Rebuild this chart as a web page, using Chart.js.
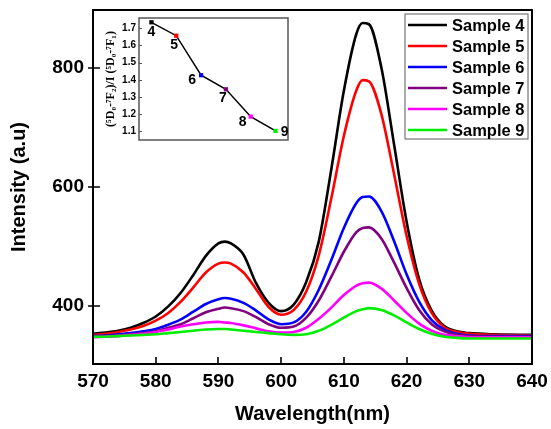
<!DOCTYPE html>
<html><head><meta charset="utf-8">
<script src="https://cdn.jsdelivr.net/npm/chart.js@4.4.1/dist/chart.umd.min.js"></script>
<style>
html,body{margin:0;padding:0;background:#fff;}
#wrap{position:relative;width:551px;height:429px;overflow:hidden;}
#main{position:absolute;left:0;top:0;}
#insetBox{position:absolute;left:95px;top:8px;width:200px;height:142px;}
</style></head><body>
<div id="wrap">
 <canvas id="main" width="551" height="429"></canvas>
 <div id="insetBox"><canvas id="inset" width="200" height="142"></canvas></div>
</div>
<script>
// ---- data ----
const wavelengths = [570,572,574,576,578,580,582,584,586,588,590,591,592,594,596,598,600,602,604,606,608,610,612,613,614,616,618,620,622,624,626,628,630,634,640];
const sample4 = [353,355,358,363,371,382,399,422,452,484,505,508,505,486,438,405,391,402,440,508,630,762,858,876,874,800,672,542,445,392,366,357,354,352,351];
const sample5 = [351,353,356,360,366,375,388,407,431,456,471,473,471,456,428,398,385,393,424,485,581,686,763,780,778,722,622,518,437,388,364,356,353,351,350];
const sample6 = [349,350,352,354,357,361,368,377,390,403,411,413,412,405,392,377,369,372,390,427,477,531,573,583,584,559,509,453,407,376,360,353,350,349,349];
const sample7 = [348,349,350,352,354,357,363,369,379,389,395,397,396,391,381,369,363,365,380,409,449,491,524,531,532,513,473,430,393,369,357,351,349,348,348];
const sample8 = [347,348,349,351,353,356,360,365,369,372,373,372,371,367,362,357,355,356,363,378,397,418,434,438,439,429,409,388,370,358,351,349,347,347,347];
const sample9 = [348,348,349,350,351,352,354,356,358,360,361,361,360,358,356,354,352,351,352,358,368,380,391,394,396,393,384,372,361,353,348,346,345,345,345];
const seriesNames = ['Sample 4','Sample 5','Sample 6','Sample 7','Sample 8','Sample 9'];
const xTickValues = [570,580,590,600,610,620,630,640];
const yTickValues = [400,600,800];
// inset
const insetSamples = [4,5,6,7,8,9];
const insetRatio = [1.735,1.657,1.427,1.345,1.186,1.103];
const insetLabels = ['4','5','6','7','8','9'];
const insetTickValues = [1.1,1.2,1.3,1.4,1.5,1.6,1.7];

// ---- styles ----
const seriesValues = [sample4,sample5,sample6,sample7,sample8,sample9];
const colors = ['#000000','#ff0000','#0000ff','#800080','#ff00ff','#00ee00'];
const FONT = "'Liberation Sans', Arial, Helvetica, sans-serif";
const SERIF = "'Liberation Serif', 'Times New Roman', serif";

const datasets = seriesNames.map((name,i)=>({
  label: name,
  data: wavelengths.map((w,j)=>({x:w, y:seriesValues[i][j]})),
  borderColor: colors[i],
  backgroundColor: colors[i],
  borderWidth: 2.6,
  pointRadius: 0,
  fill: false,
  cubicInterpolationMode: 'monotone',
  order: 10 - i
}));

const mainPlugin = {
  id: 'mainDecor',
  afterDatasetsDraw(chart){
    const {ctx, chartArea:a, scales:{x,y}} = chart;
    ctx.save();
    ctx.strokeStyle = '#000';
    ctx.lineWidth = 2;
    ctx.strokeRect(a.left, a.top, a.right-a.left, a.bottom-a.top);
    ctx.lineWidth = 1.6;
    ctx.beginPath();
    x.ticks.forEach(t=>{
      const px = Math.round(x.getPixelForValue(t.value));
      if (px > a.left+2 && px < a.right-2){ ctx.moveTo(px, a.bottom); ctx.lineTo(px, a.bottom-7); }
    });
    y.ticks.forEach(t=>{
      const py = Math.round(y.getPixelForValue(t.value));
      ctx.moveTo(a.left-5, py); ctx.lineTo(a.left+7, py);
    });
    ctx.stroke();
    // legend box
    const bx = 405, by = 14, bw = 123, bh = 125;
    ctx.fillStyle = '#fff';
    ctx.fillRect(bx, by, bw, bh);
    ctx.strokeStyle = '#777';
    ctx.lineWidth = 1.2;
    ctx.strokeRect(bx, by, bw, bh);
    ctx.font = 'bold 16.5px ' + FONT;
    ctx.textBaseline = 'middle';
    ctx.textAlign = 'left';
    chart.data.datasets.forEach((ds,i)=>{
      const ry = by + 11 + 21*i;
      ctx.strokeStyle = ds.borderColor;
      ctx.lineWidth = 2.6;
      ctx.beginPath(); ctx.moveTo(bx+3, ry); ctx.lineTo(bx+42, ry); ctx.stroke();
      ctx.fillStyle = '#000';
      ctx.fillText(ds.label, bx+47, ry+1);
    });
    ctx.restore();
  }
};

new Chart(document.getElementById('main'), {
  type: 'line',
  data: { datasets },
  options: {
    responsive: false, animation: false, devicePixelRatio: 1,
    layout: { padding: { left: 0, right: 19, top: 10, bottom: 0 } },
    scales: {
      x: {
        type: 'linear', min: 570, max: 640,
        afterBuildTicks(s){ s.ticks = xTickValues.map(v=>({value:v})); },
        ticks: { color:'#000', font:{family:FONT, size:19, weight:'bold'}, padding:6, maxRotation:0, autoSkip:false },
        grid: { display:false, drawTicks:false },
        border: { display:false },
        title: { display:true, text:'Wavelength(nm)', color:'#000', font:{family:FONT, size:20, weight:'bold'}, padding:{top:0, bottom:3} },
        afterFit(s){ s.height = 65; s.paddingLeft = 0; s.paddingRight = 0; }
      },
      y: {
        type: 'linear', min: 302, max: 898,
        afterBuildTicks(s){ s.ticks = yTickValues.map(v=>({value:v})); },
        ticks: { color:'#000', font:{family:FONT, size:19, weight:'bold'}, padding:9 },
        grid: { display:false, drawTicks:false },
        border: { display:false },
        title: { display:true, text:'Intensity (a.u)', color:'#000', font:{family:FONT, size:20, weight:'bold'}, padding:{top:7, bottom:0} },
        afterFit(s){ s.width = 93; s.paddingTop = 0; s.paddingBottom = 0; }
      }
    },
    plugins: { legend:{display:false}, tooltip:{enabled:false} }
  },
  plugins: [mainPlugin]
});

const labelOffsets = [[0,10],[-2,9],[-9,5],[-3,9],[-8,6],[9,1]];
const insetPlugin = {
  id: 'insetDecor',
  beforeDraw(chart){
    const {ctx, chartArea:a} = chart;
    ctx.save(); ctx.fillStyle = '#fff';
    ctx.fillRect(a.left, a.top, a.right-a.left, a.bottom-a.top);
    ctx.restore();
  },
  afterDraw(chart){
    const {ctx, chartArea:a, scales:{x,y}} = chart;
    ctx.save();
    ctx.strokeStyle = '#555';
    ctx.lineWidth = 1.5;
    ctx.strokeRect(a.left, a.top, a.right-a.left, a.bottom-a.top);
    ctx.lineWidth = 1;
    ctx.beginPath();
    y.ticks.forEach(t=>{
      const py = Math.round(y.getPixelForValue(t.value))+0.5;
      ctx.moveTo(a.left, py); ctx.lineTo(a.left+3, py);
    });
    ctx.stroke();
    ctx.fillStyle = '#000';
    ctx.font = 'bold 14px ' + FONT;
    ctx.textAlign = 'center';
    ctx.textBaseline = 'middle';
    insetLabels.forEach((lab,i)=>{
      const px = x.getPixelForValue(insetSamples[i]);
      const py = y.getPixelForValue(insetRatio[i]);
      ctx.fillText(lab, px + labelOffsets[i][0], py + labelOffsets[i][1]);
    });
    ctx.restore();
  }
};

new Chart(document.getElementById('inset'), {
  type: 'line',
  data: { datasets: [{
    data: insetSamples.map((s,i)=>({x:s, y:insetRatio[i]})),
    borderColor: '#000', borderWidth: 1.5,
    pointStyle: 'rect', pointRadius: 3, pointBorderWidth: 0,
    pointBackgroundColor: colors, pointBorderColor: colors,
    tension: 0, clip: false
  }]},
  options: {
    responsive: false, animation: false, devicePixelRatio: 1,
    layout: { padding: { left: 0, right: 7, top: 10, bottom: 10 } },
    scales: {
      x: { type:'linear', min:3.5, max:9.5, display:false },
      y: {
        type:'linear', min:1.05, max:1.76,
        afterBuildTicks(s){ s.ticks = insetTickValues.map(v=>({value:v})); },
        ticks: { callback:v=>Number(v).toFixed(1), color:'#000', font:{family:FONT, size:10, weight:'bold'}, padding:3 },
        grid: { display:false, drawTicks:false },
        border: { display:false },
        title: { display:true, text:'(⁵D₀-⁷F₂)/I (⁵D₀-⁷F₁)', color:'#000', font:{family:SERIF, size:12, weight:'bold'}, padding:{top:9, bottom:0} },
        afterFit(s){ s.width = 44; s.paddingTop = 0; s.paddingBottom = 0; }
      }
    },
    plugins: { legend:{display:false}, tooltip:{enabled:false} }
  },
  plugins: [insetPlugin]
});
</script>
</body></html>
